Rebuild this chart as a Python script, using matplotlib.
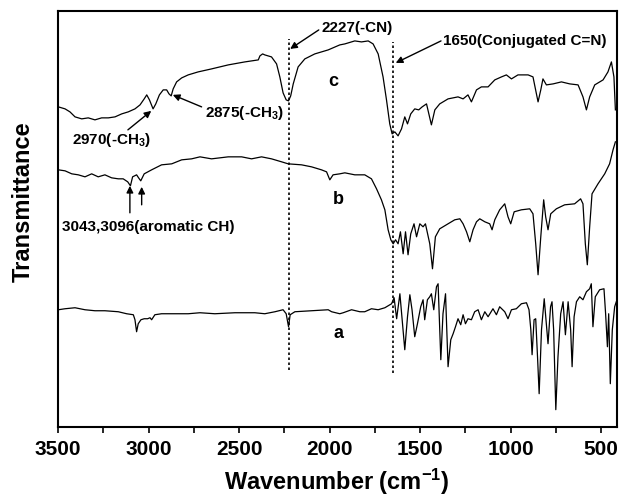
import numpy as np
import matplotlib
matplotlib.use("Agg")
import matplotlib.pyplot as plt
from matplotlib.ticker import MultipleLocator

plt.rcParams['font.family'] = ['Liberation Sans', 'DejaVu Sans']
plt.rcParams['font.weight'] = 'bold'
plt.rcParams['mathtext.fontset'] = 'custom'
plt.rcParams['mathtext.rm'] = 'Liberation Sans:bold'
plt.rcParams['mathtext.bf'] = 'Liberation Sans:bold'
plt.rcParams['mathtext.default'] = 'bf'

# spectrum c (top)
wn_c = [3498, 3461, 3434, 3406, 3369, 3333, 3296, 3259, 3222, 3185, 3148, 3112, 3075, 3047,
        3024, 3010, 2995, 2975, 2960, 2940, 2919, 2900, 2887, 2875, 2864, 2845, 2817, 2781,
        2726, 2652, 2560, 2468, 2394, 2385, 2370, 2358, 2321, 2293, 2275, 2257, 2240, 2227,
        2215, 2201, 2174, 2137, 2082, 2008, 1944, 1916, 1861, 1824, 1787, 1760, 1732, 1705,
        1686, 1668, 1655, 1640, 1622, 1603, 1585, 1570, 1552, 1530, 1508, 1489, 1465, 1438,
        1419, 1392, 1346, 1291, 1263, 1236, 1217, 1189, 1162, 1125, 1088, 1051, 1024, 996,
        960, 904, 877, 858, 849, 834, 822, 803, 766, 720, 674, 628, 601, 582, 564, 536, 490,
        463, 444, 430, 422]
tr_c = [320, 318, 315, 310, 308, 309, 307, 309, 309, 310, 313, 315, 318, 322,
        328, 332, 327, 318, 323, 332, 337, 337, 333, 331, 338, 345, 349, 352,
        355, 358, 362, 365, 367, 371, 373, 372, 370, 363, 350, 334, 327, 326,
        331, 343, 360, 368, 373, 377, 382, 383, 386, 385, 386, 383, 373, 350,
        327, 303, 293, 295, 291, 298, 310, 303, 313, 318, 317, 320, 323, 302,
        317, 323, 328, 330, 328, 332, 325, 337, 340, 340, 347, 350, 352, 348,
        352, 352, 350, 333, 325, 337, 348, 342, 343, 345, 343, 342, 330, 317, 330, 342, 347,
        355, 365, 350, 317]

# spectrum b (middle)
wn_b = [3498, 3461, 3424, 3388, 3351, 3314, 3278, 3241, 3204, 3167, 3140, 3115, 3100, 3088,
        3066, 3055, 3043, 3024, 2983, 2928, 2872, 2817, 2762, 2716, 2652, 2560, 2486, 2431,
        2376, 2321, 2265, 2229, 2155, 2100, 2045, 2017, 1999, 1981, 1944, 1916, 1861, 1806,
        1769, 1741, 1714, 1695, 1677, 1662, 1649, 1636, 1622, 1609, 1594, 1581, 1567, 1552,
        1534, 1520, 1502, 1484, 1471, 1447, 1432, 1416, 1392, 1346, 1309, 1281, 1263, 1244,
        1226, 1208, 1189, 1171, 1143, 1116, 1103, 1088, 1061, 1033, 1015, 1000, 981, 941,
        895, 877, 862, 849, 834, 818, 807, 794, 779, 748, 702, 647, 614, 601, 588, 577, 564,
        551, 518, 481, 454, 435, 422]
tr_b = [257, 256, 253, 252, 250, 253, 250, 252, 249, 248, 248, 245, 241, 250,
        252, 249, 246, 253, 257, 262, 263, 267, 268, 270, 268, 270, 270, 268,
        270, 268, 265, 263, 262, 260, 257, 255, 247, 252, 253, 254, 252, 252,
        248, 238, 227, 217, 197, 187, 183, 187, 183, 195, 173, 195, 172, 193,
        203, 190, 203, 200, 203, 183, 158, 190, 198, 203, 207, 208, 203, 195,
        185, 197, 205, 208, 205, 203, 197, 207, 217, 223, 210, 203, 215, 217,
        218, 213, 183, 152, 190, 227, 210, 197, 213, 218, 222, 223, 228, 223, 183, 162, 200,
        233, 243, 253, 263, 277, 285]

# spectrum a (bottom)
wn_a = [3498, 3461, 3406, 3351, 3296, 3241, 3167, 3121, 3084, 3075, 3066, 3057, 3042, 3024,
        3005, 2992, 2983, 2965, 2928, 2854, 2781, 2716, 2634, 2523, 2413, 2358, 2302, 2257,
        2240, 2227, 2218, 2192, 2100, 2008, 1989, 1944, 1925, 1879, 1833, 1806, 1769, 1732,
        1695, 1658, 1644, 1630, 1612, 1585, 1570, 1557, 1545, 1530, 1515, 1497, 1484, 1475,
        1460, 1447, 1438, 1425, 1410, 1401, 1386, 1374, 1360, 1346, 1331, 1318, 1305, 1291,
        1276, 1263, 1250, 1236, 1217, 1199, 1180, 1162, 1143, 1125, 1098, 1079, 1061, 1033,
        1015, 996, 969, 941, 913, 899, 889, 882, 871, 862, 852, 843, 830, 815, 803, 794, 780,
        772, 763, 751, 739, 724, 711, 698, 683, 669, 661, 650, 637, 619, 601, 582, 564, 555,
        546, 533, 509, 485, 476, 466, 459, 450, 439, 426, 417]
tr_a = [117, 118, 119, 117, 116, 116, 115, 113, 112, 107, 95, 103, 107, 108,
        108, 109, 107, 112, 113, 113, 113, 114, 113, 114, 114, 113, 115, 117,
        113, 100, 112, 115, 116, 117, 115, 113, 114, 117, 115, 115, 118, 117,
        119, 123, 129, 108, 133, 77, 110, 132, 117, 90, 103, 120, 127, 107,
        127, 130, 133, 117, 140, 143, 67, 113, 133, 60, 87, 93, 100, 108,
        102, 112, 103, 108, 107, 115, 117, 107, 115, 110, 118, 112, 120, 115,
        108, 117, 118, 123, 124, 117, 97, 72, 107, 108, 70, 33, 97, 128, 103, 83, 120,
        125, 97, 17, 70, 113, 125, 92, 125, 97, 60, 110, 125, 130, 127, 135, 138, 143,
        100, 130, 137, 138, 113, 80, 113, 43, 97, 120, 125]

curve_names = ['a', 'b', 'c']
marker_lines = [2227, 1650]

fig = plt.figure(figsize=(6.21, 4.97), dpi=100)
ax = fig.add_axes([0.0934, 0.1415, 0.8996, 0.8365])

for wn, tr in [(wn_a, tr_a), (wn_b, tr_b), (wn_c, tr_c)]:
    ax.plot(wn, tr, color='black', lw=0.9)

# dotted guide lines
ax.plot([marker_lines[0]] * 2, [57, 388], color='black', lw=1.2, ls=(0, (1.5, 1.5)))
ax.plot([marker_lines[1]] * 2, [54, 385], color='black', lw=1.2, ls=(0, (1.5, 1.5)))

arrow = dict(arrowstyle='-|>', color='black', lw=1.0, mutation_scale=10, shrinkA=0, shrinkB=0)
ax.annotate('', xy=(2985, 316), xytext=(3114, 297), arrowprops=arrow)
ax.text(3207, 287, '2970(-CH$_3$)', fontsize=11, fontweight='bold', ha='center', va='center')
ax.annotate('', xy=(2866, 332), xytext=(2707, 320), arrowprops=arrow)
ax.text(2468, 314, '2875(-CH$_3$)', fontsize=11, fontweight='bold', ha='center', va='center')
ax.annotate('', xy=(3103, 241), xytext=(3103, 214), arrowprops=arrow)
ax.annotate('', xy=(3038, 240), xytext=(3038, 222), arrowprops=arrow)
ax.text(3003, 200, '3043,3096(aromatic CH)', fontsize=11, fontweight='bold', ha='center', va='center')
ax.annotate('', xy=(2218, 378), xytext=(2060, 397), arrowprops=arrow)
ax.text(2045, 399, '2227(-CN)', fontsize=11, fontweight='bold', ha='left', va='center')
ax.annotate('', xy=(1635, 364), xytext=(1385, 386), arrowprops=arrow)
ax.text(1375, 386, '1650(Conjugated C=N)', fontsize=11, fontweight='bold', ha='left', va='center')

for name, x, y in zip(curve_names, [1953, 1953, 1981], [93, 227, 345]):
    ax.text(x, y, name, fontsize=13, fontweight='bold', ha='center', va='center')

ax.set_xlim(3500, 415)
ax.set_ylim(0, 416)
ax.set_yticks([])
ax.xaxis.set_major_locator(MultipleLocator(500))
ax.xaxis.set_minor_locator(MultipleLocator(250))
ax.tick_params(axis='x', which='both', direction='out', length=4.5, width=1.2, pad=5, labelsize=15)
for lbl in ax.get_xticklabels():
    lbl.set_fontweight('bold')
for s in ax.spines.values():
    s.set_linewidth(1.5)

ax.set_xlabel('Wavenumber (cm$^{-1}$)', fontsize=17, fontweight='bold', va='center')
ax.xaxis.set_label_coords(0.499, -0.133)
ax.set_ylabel('Transmittance', fontsize=17, fontweight='bold', va='center')
ax.yaxis.set_label_coords(-0.062, 0.54)

fig.savefig('out.png', dpi=100)
